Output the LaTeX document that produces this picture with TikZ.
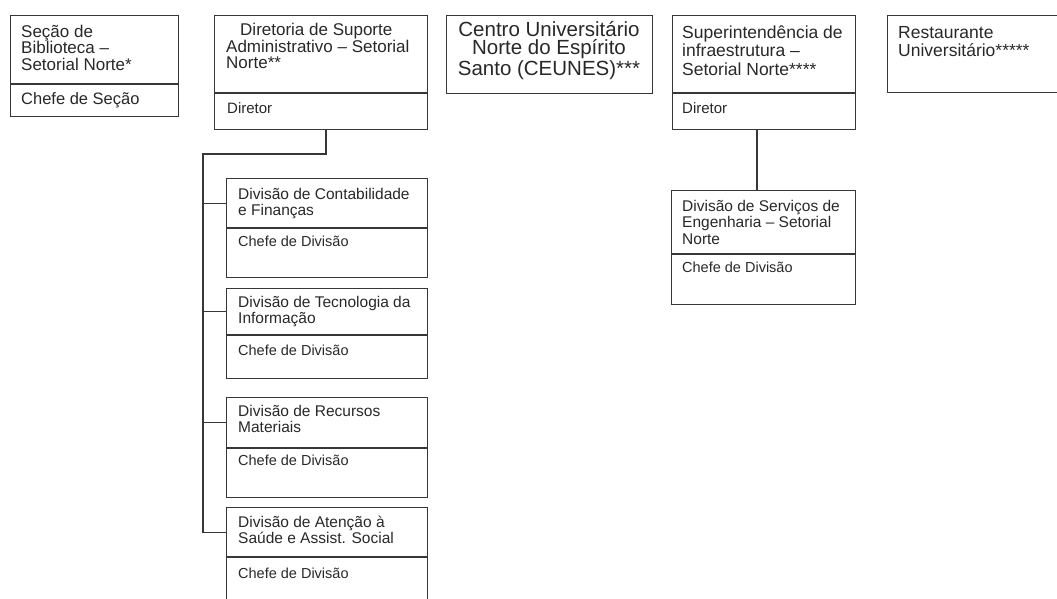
\documentclass[tikz,border=0pt]{standalone}
\usepackage{fontspec}
\setmainfont{Liberation Sans}
\usetikzlibrary{calc}
\definecolor{lc}{RGB}{55,55,55}
\definecolor{tc}{RGB}{40,40,40}
\begin{document}
\begin{tikzpicture}[x=1pt,y=-1pt,
  box/.style={draw=lc, line width=1.2pt, rectangle, inner sep=0pt, anchor=north west},
  lbl/.style={inner sep=0pt, anchor=base west, align=left, text=tc},
  conn/.style={draw=lc, line width=1.2pt},
  fbig/.style={font=\fontsize{17}{16.5}\selectfont},
  fmid/.style={font=\fontsize{17.5}{18.5}\selectfont},
  fdiv/.style={font=\fontsize{15.5}{16.8}\selectfont},
  fsub/.style={font=\fontsize{15}{16}\selectfont},
  fchef/.style={font=\fontsize{14.5}{16}\selectfont}]
\useasboundingbox (0,0) rectangle (1057,598);
\clip (0,0) rectangle (1057,598);

% Secao de Biblioteca
\node[box, minimum width=168, minimum height=68] (b1t) at (10,15) {};
\node[box, minimum width=168, minimum height=32] (b1s) at (b1t.south west) {};
\node[lbl, fbig] (b1tx) at (21,70) {Seção de\\Biblioteca –\\Setorial Norte*};
\node[lbl, font=\fontsize{16.5}{16}\selectfont] (b1sx) at (21,104) {Chefe de Seção};

% Diretoria
\node[box, minimum width=213, minimum height=77] (b2t) at (214,15) {};
\node[box, minimum width=213, minimum height=36] (b2s) at (b2t.south west) {};
\node[lbl, font=\fontsize{17}{15.8}\selectfont] (b2tx) at (226,68.6) {\hspace*{14pt}Diretoria de Suporte\\Administrativo – Setorial\\Norte**};
\node[lbl, fsub] (b2sx) at (227,113) {Diretor};

% Centro
\node[box, minimum width=206, minimum height=78] (b3) at (446,15) {};
\node[inner sep=0pt, anchor=base, align=center, text=tc, font=\fontsize{20.5}{18.5}\selectfont] (b3tx) at (549,75) {Centro Universitário\\Norte do Espírito\\Santo (CEUNES)***};

% Superintendencia
\node[box, minimum width=183, minimum height=77] (b4t) at (672,15) {};
\node[box, minimum width=183, minimum height=36] (b4s) at (b4t.south west) {};
\node[lbl, fmid] (b4tx) at (682,75) {Superintendência de\\infraestrutura –\\Setorial Norte****};
\node[lbl, fsub] (b4sx) at (682,113) {Diretor};

% Restaurante
\node[box, minimum width=200, minimum height=77] (b5) at (887,15) {};
\node[lbl, fmid] (b5tx) at (898,56.5) {Restaurante\\Universitário*****};

% Divisions under Diretoria
\node[box, minimum width=201, minimum height=49] (d1t) at (226,178) {};
\node[box, minimum width=201, minimum height=49] (d1s) at (d1t.south west) {};
\node[lbl, fdiv] (d1tx) at (238,215.8) {Divisão de Contabilidade\\e Finanças};
\node[lbl, fchef] (d1sx) at (238,246) {Chefe de Divisão};

\node[box, minimum width=201, minimum height=46] (d2t) at (226,288) {};
\node[box, minimum width=201, minimum height=43] (d2s) at (d2t.south west) {};
\node[lbl, fdiv] (d2tx) at (238,323.8) {Divisão de Tecnologia da\\Informação};
\node[lbl, fchef] (d2sx) at (238,355) {Chefe de Divisão};

\node[box, minimum width=201, minimum height=50] (d3t) at (226,397) {};
\node[box, minimum width=201, minimum height=49] (d3s) at (d3t.south west) {};
\node[lbl, fdiv] (d3tx) at (238,432.8) {Divisão de Recursos\\Materiais};
\node[lbl, fchef] (d3sx) at (238,465) {Chefe de Divisão};

\node[box, minimum width=201, minimum height=49] (d4t) at (226,507) {};
\node[box, minimum width=201, minimum height=60] (d4s) at (d4t.south west) {};
\node[lbl, fdiv] (d4tx) at (238,543.8) {Divisão de Atenção à\\Saúde e Assist. Social};
\node[lbl, fchef] (d4sx) at (238,578) {Chefe de Divisão};

% Division under Superintendencia
\node[box, minimum width=184, minimum height=63] (d5t) at (671,190) {};
\node[box, minimum width=184, minimum height=50] (d5s) at (d5t.south west) {};
\node[lbl, fdiv] (d5tx) at (682,244.6) {Divisão de Serviços de\\Engenharia – Setorial\\Norte};
\node[lbl, fchef] (d5sx) at (682,272) {Chefe de Divisão};

% Connectors
\coordinate (tt) at (326,154);
\coordinate (tl) at (203,154);
\draw[conn] (b2s.south -| tt) -- (tt) -- (tl) |- (d4t.west);
\draw[conn] (tl |- d1t.west) -- (d1t.west);
\draw[conn] (tl |- d2t.west) -- (d2t.west);
\draw[conn] (tl |- d3t.west) -- (d3t.west);
\coordinate (sv) at (757,150);
\draw[conn] (b4s.south -| sv) -- (d5t.north -| sv);
\end{tikzpicture}
\end{document}
